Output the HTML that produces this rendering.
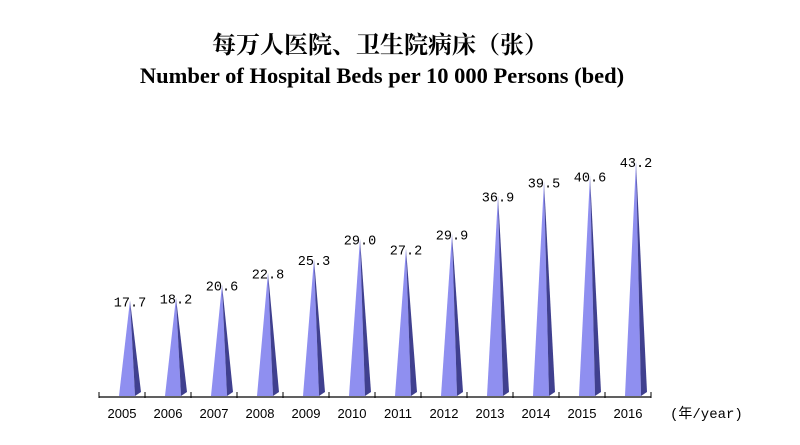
<!DOCTYPE html>
<html><head><meta charset="utf-8"><style>
body{margin:0;background:#fff;width:800px;height:440px;overflow:hidden}
</style></head><body>
<svg width="800" height="440" xmlns="http://www.w3.org/2000/svg">
<text x="380" y="53" text-anchor="middle" font-family="'Liberation Serif','Noto Serif CJK SC',serif" font-size="24" font-weight="bold">每万人医院、卫生院病床（张）</text>
<text x="382" y="83" text-anchor="middle" font-family="'Liberation Serif',serif" font-size="22.5" font-weight="bold">Number of Hospital Beds per 10 000 Persons (bed)</text>
<g id="plot"></g>
<text x="670" y="418" font-family="'Liberation Mono','Noto Sans CJK SC',monospace" font-size="14">(年/year)</text>
</svg>
<script>
const years=["2005","2006","2007","2008","2009","2010","2011","2012","2013","2014","2015","2016"];
const values=[17.7,18.2,20.6,22.8,25.3,29.0,27.2,29.9,36.9,39.5,40.6,43.2];
const labels=["17.7","18.2","20.6","22.8","25.3","29.0","27.2","29.9","36.9","39.5","40.6","43.2"];
const NS="http://www.w3.org/2000/svg";
const g=document.getElementById('plot');
const x0=99,step=46,base=397,scale=5.46;
const xs=i=>x0+step*i+step/2;
const ys=v=>base-v*scale;
function mk(t,a){const e=document.createElementNS(NS,t);for(const k in a)e.setAttribute(k,a[k]);g.appendChild(e);return e;}
const ax=mk('line',{x1:x0,y1:base,x2:x0+step*years.length,y2:base,stroke:'#000','stroke-width':1.2});


for(let i=0;i<=years.length;i++){
  const t=mk('line',{x1:x0+step*i,y1:base-5,x2:x0+step*i,y2:base+1,stroke:'#000'});
  
  
}
years.forEach((y,i)=>{
  const c=xs(i),top=ys(values[i]),ax2=c+8;
  const l=mk('polygon',{points:`${c-3},${base-1} ${ax2},${top} ${c+13},${base-1}`,fill:'#8f8ff0'});
  
  
  const d=mk('polygon',{points:`${c+13},${base-1} ${ax2},${top} ${c+19},${base-5}`,fill:'#40408f'});
  
  
  const v=mk('text',{x:ax2,y:top+6,'text-anchor':'middle','font-family':"'Liberation Mono',monospace",'font-size':13.5});
  v.textContent=labels[i];
  
  
  const t=mk('text',{x:c,y:418,'text-anchor':'middle','font-family':"'Liberation Sans',sans-serif",'font-size':13});
  t.textContent=y;
  
  
});
</script>
</body></html>
